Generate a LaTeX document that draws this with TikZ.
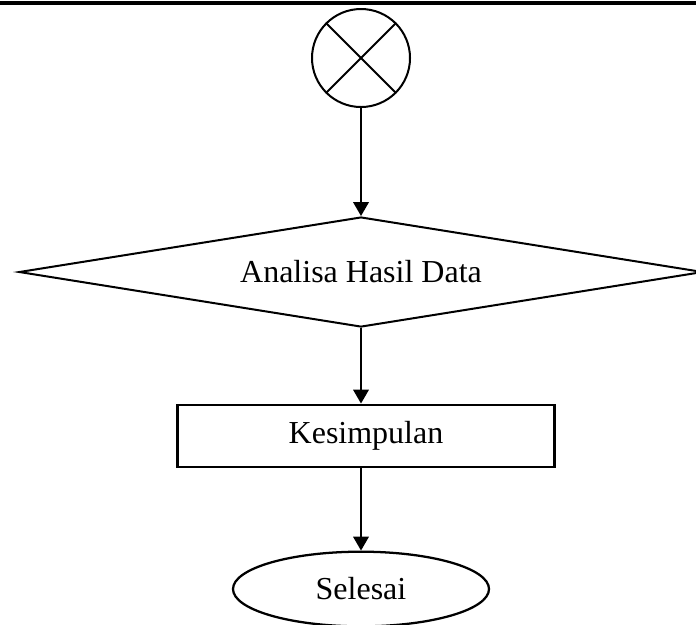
\documentclass[tikz,border=0pt]{standalone}
\usepackage{fontspec}
\setmainfont{Liberation Serif}
\usepackage{tikz}
\usetikzlibrary{positioning, shapes, arrows.meta}
\tikzstyle{konektor}=[%
      circle, draw=black, line width=0.75pt, fill=none,
      minimum size=36.75pt, inner sep=0pt
]
\tikzstyle{keputusan}=[%
      diamond, draw=black, line width=0.75pt, fill=none, shape aspect=6.2,
      minimum width=256.5pt, minimum height=41.25pt, inner sep=0pt, align=center
]
\tikzstyle{proses}=[%
      rectangle, draw=black, line width=1.1pt, fill=none,
      minimum width=141.4pt, minimum height=23.25pt, inner sep=0pt, align=center
]
\tikzstyle{terminal}=[%
      ellipse, draw=black, line width=0.85pt, fill=none,
      minimum width=96pt, minimum height=28pt, inner sep=0pt, align=center
]

\begin{document}
\begin{tikzpicture}[x=0.375pt, y=-0.375pt,
    font=\fontsize{12}{14}\selectfont,
    ->, -{Triangle[length=5.2pt,width=5.8pt]}, line width=0.75pt
  ]
    \useasboundingbox (0,0) rectangle (696,624);
    \coordinate (kiri) at (0,3);
    \coordinate (kanan) at (696,3);
    \draw[-, line width=1.3pt] (kiri) -- (kanan);

    \node[konektor]  (sambung)    at (361,58)    {};
    \node[keputusan] (analisa)    at (361,272)   {Analisa Hasil Data};
    \node[proses]    (kesimpulan) at (366,436)   {Kesimpulan};
    \node[terminal]  (selesai)    at (361,589)   {Selesai};

    \draw[-] (sambung.45) -- (sambung.225);
    \draw[-] (sambung.135) -- (sambung.-45);

    \path (sambung) edge (analisa.north)
          (analisa.south) edge (analisa.south |- kesimpulan.north)
          (kesimpulan.south -| selesai.north) edge (selesai.north)
    ;

  \end{tikzpicture}
\end{document}
